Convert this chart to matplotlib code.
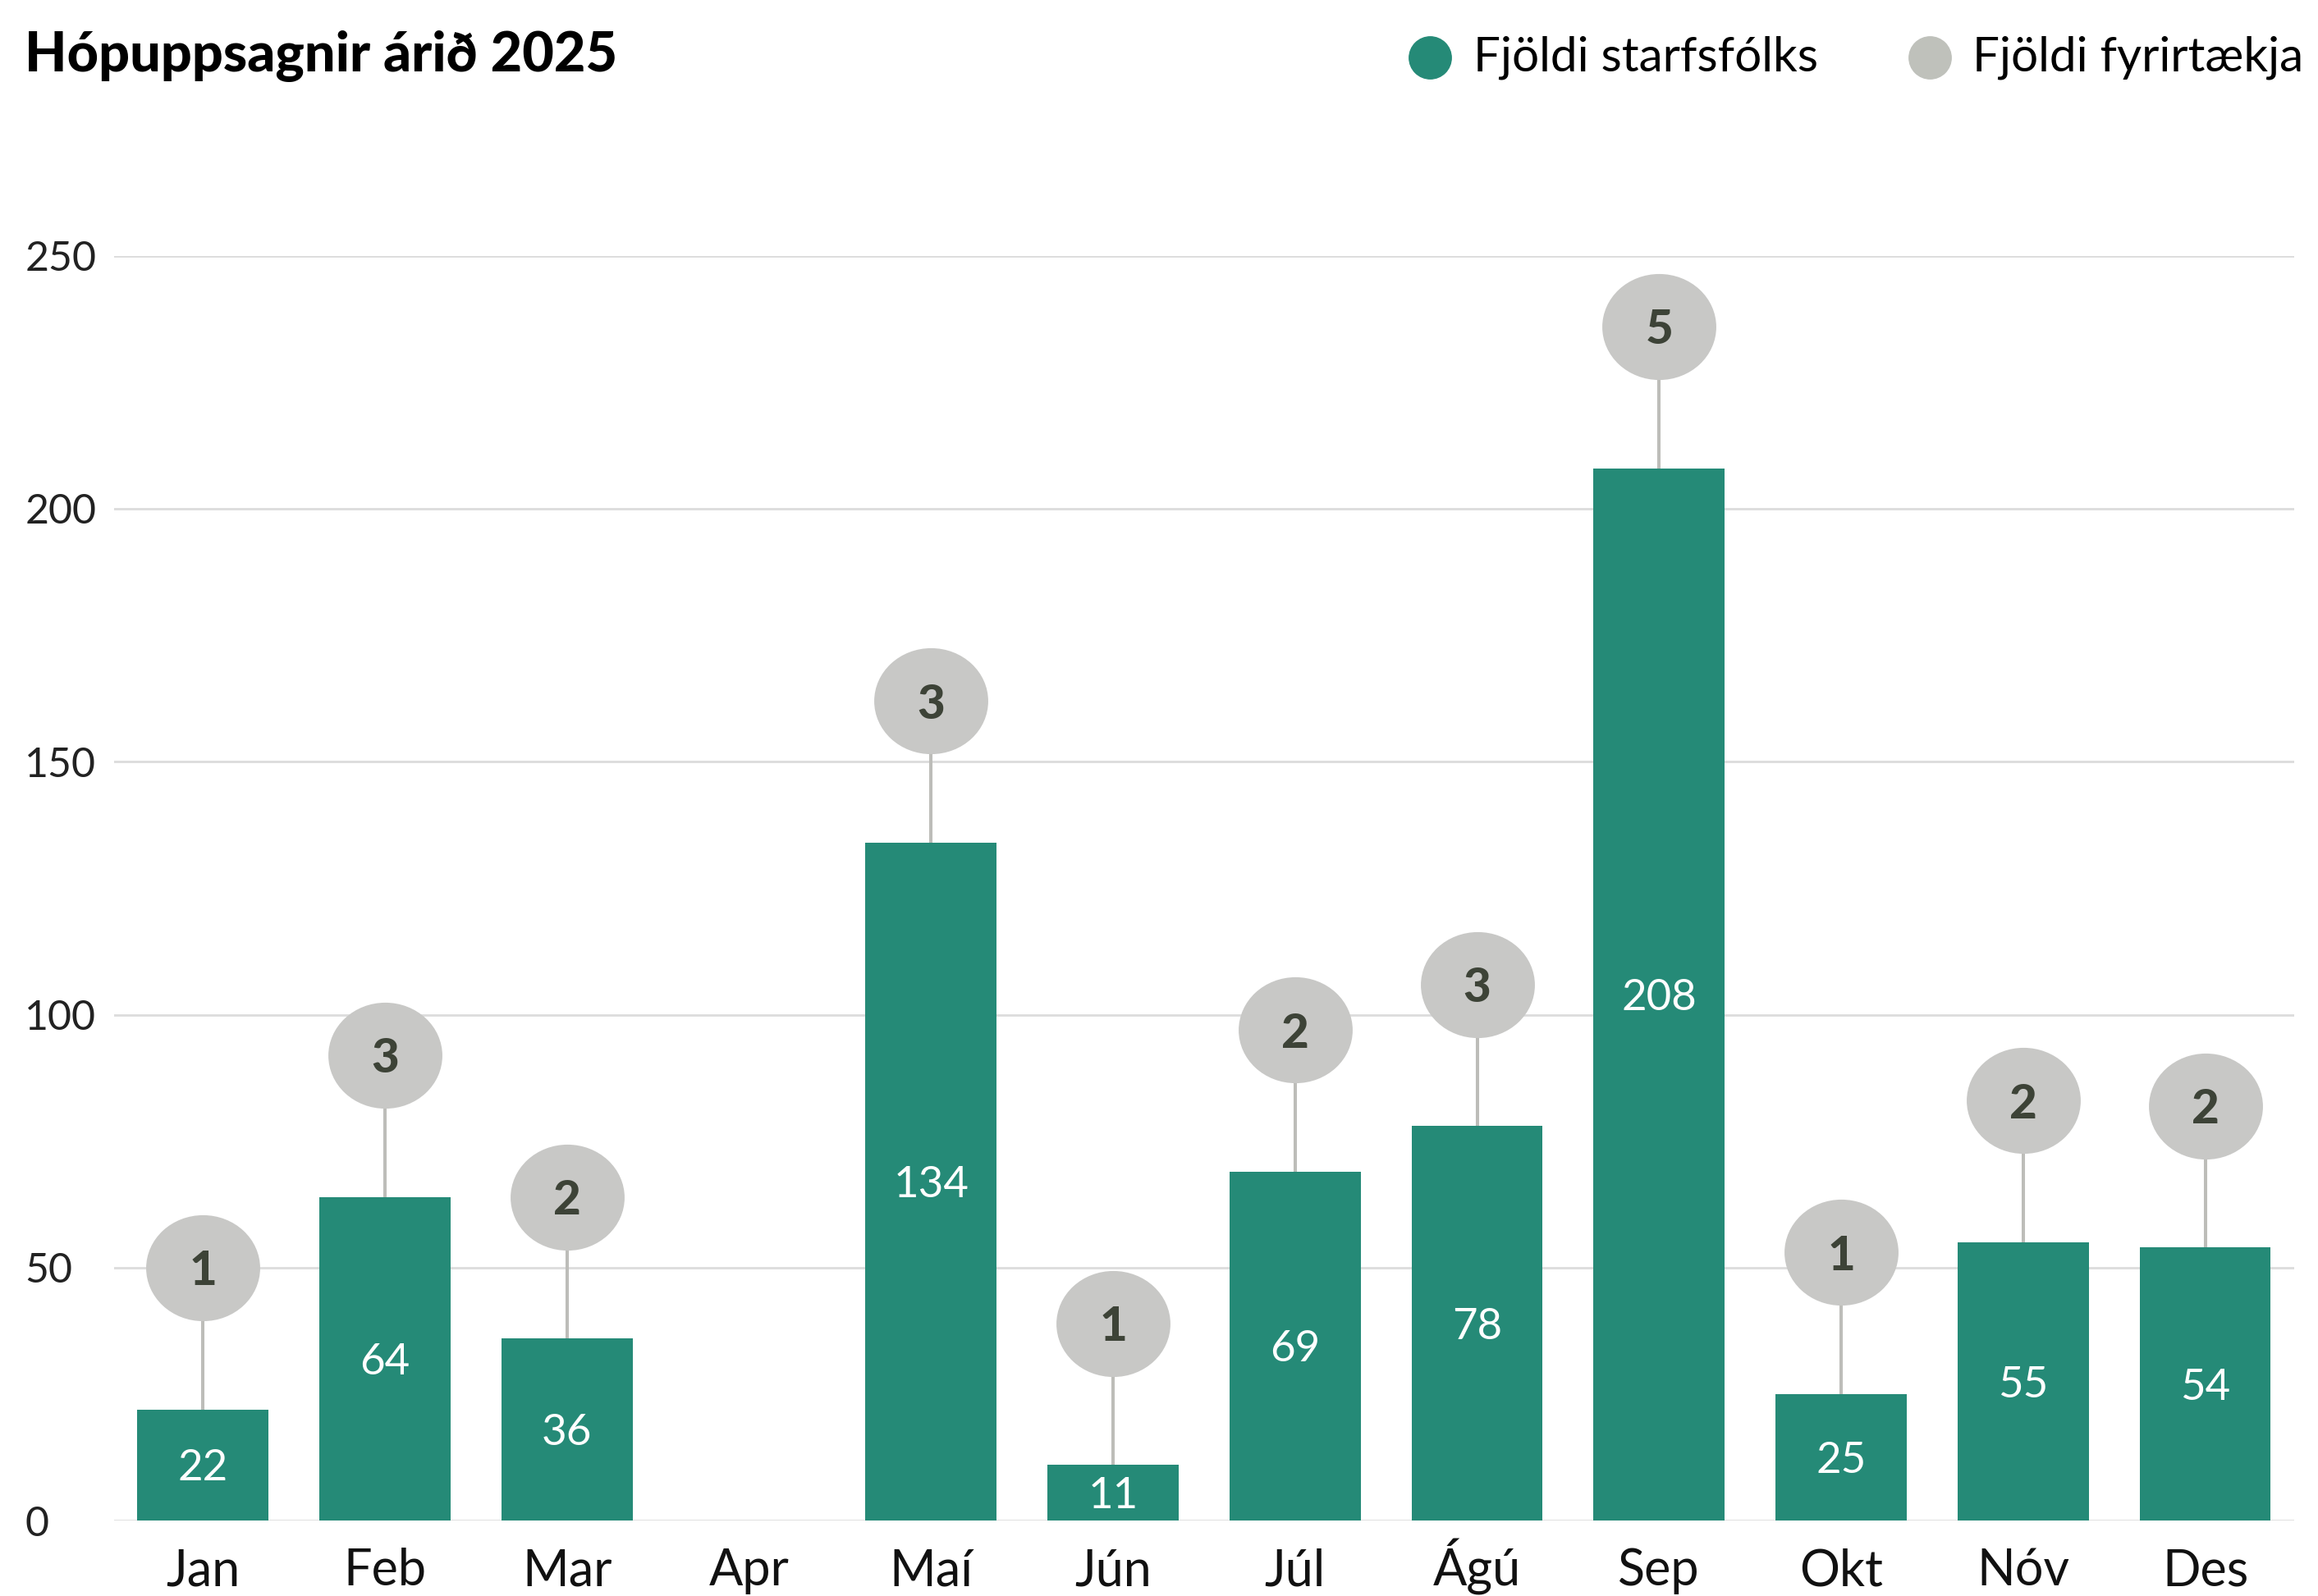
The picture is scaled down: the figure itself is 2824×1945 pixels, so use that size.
import numpy as np
import matplotlib.pyplot as plt
from matplotlib.path import Path
from matplotlib.transforms import Affine2D

# data
months = ['Jan', 'Feb', 'Mar', 'Apr', 'Maí', 'Jún', 'Júl', 'Ágú', 'Sep', 'Okt', 'Nóv', 'Des']
employees = [22, 64, 36, 0, 134, 11, 69, 78, 208, 25, 55, 54]
companies = [1, 3, 2, 0, 3, 1, 2, 3, 5, 1, 2, 2]

GREEN = '#258a77'
BUBBLE = '#c8c8c6'
LEG_GRAY = '#bfc1bb'
STEM = '#bdbdb9'
DARK = '#3d4337'

plt.rcParams['font.family'] = ['Lato', 'DejaVu Sans']

fig = plt.figure(figsize=(28.24, 19.45), dpi=100)
ax = fig.add_axes([0.0491, 0.0472, 0.9407, 0.7926])

x = np.arange(len(months))
ax.bar(x, employees, width=0.72, color=GREEN, zorder=3)

ax.set_xlim(-0.49, len(months) - 0.51)
ax.set_ylim(0, 250)
ax.set_yticks([0, 50, 100, 150, 200, 250])
ax.grid(axis='y', color='#dcdcdc', linewidth=2, zorder=0)
ax.set_axisbelow(True)
for s in ax.spines.values():
    s.set_visible(False)
ax.tick_params(axis='both', length=0)
ax.tick_params(axis='y', labelsize=36, labelcolor='#222222', pad=14)
ax.tick_params(axis='x', labelsize=44, labelcolor='#111111', pad=57)
ax.set_xticks(x)
ax.set_xticklabels(months)
for lbl in ax.get_xticklabels():
    lbl.set_verticalalignment('baseline')
for lbl in ax.get_yticklabels():
    lbl.set_horizontalalignment('left')
    lbl.set_x(-0.0335)

# slightly squashed ellipse marker for the company bubbles
ell = Affine2D().scale(1.0, 0.93).transform_path(Path.unit_circle())

offset = 28
for xi, e, c in zip(x, employees, companies):
    if e > 0:
        ax.text(xi, e / 2, str(e), ha='center', va='center_baseline', color='white',
                fontsize=38, zorder=5)
    if c > 0:
        by = e + offset
        ax.plot([xi, xi], [e, by], color=STEM, linewidth=2.9, zorder=2,
                solid_capstyle='butt')
        ax.scatter([xi], [by], s=10000, marker=ell, color=BUBBLE, zorder=4,
                   linewidths=0, clip_on=False)
        ax.text(xi, by, str(c), ha='center', va='center_baseline', color=DARK,
                fontsize=42, fontweight='black', zorder=6)

# title
fig.text(0.0105, 0.981, 'Hópuppsagnir árið 2025', ha='left', va='top',
         fontsize=48, fontweight='black', color='black')

# legend
lx1, lx2, ly = 0.617, 0.8325, 0.964
fig.add_artist(plt.Line2D([lx1], [ly], marker='o', markersize=37, color=GREEN,
                          linestyle='none', transform=fig.transFigure))
fig.add_artist(plt.Line2D([lx2], [ly], marker='o', markersize=37, color=LEG_GRAY,
                          linestyle='none', transform=fig.transFigure))
fig.text(lx1 + 0.0185, ly, 'Fjöldi starfsfólks', ha='left', va='center',
         fontsize=42, color='black')
fig.text(lx2 + 0.0185, ly, 'Fjöldi fyrirtækja', ha='left', va='center',
         fontsize=42, color='black')

fig.savefig('out.png', dpi=100, facecolor='white')
